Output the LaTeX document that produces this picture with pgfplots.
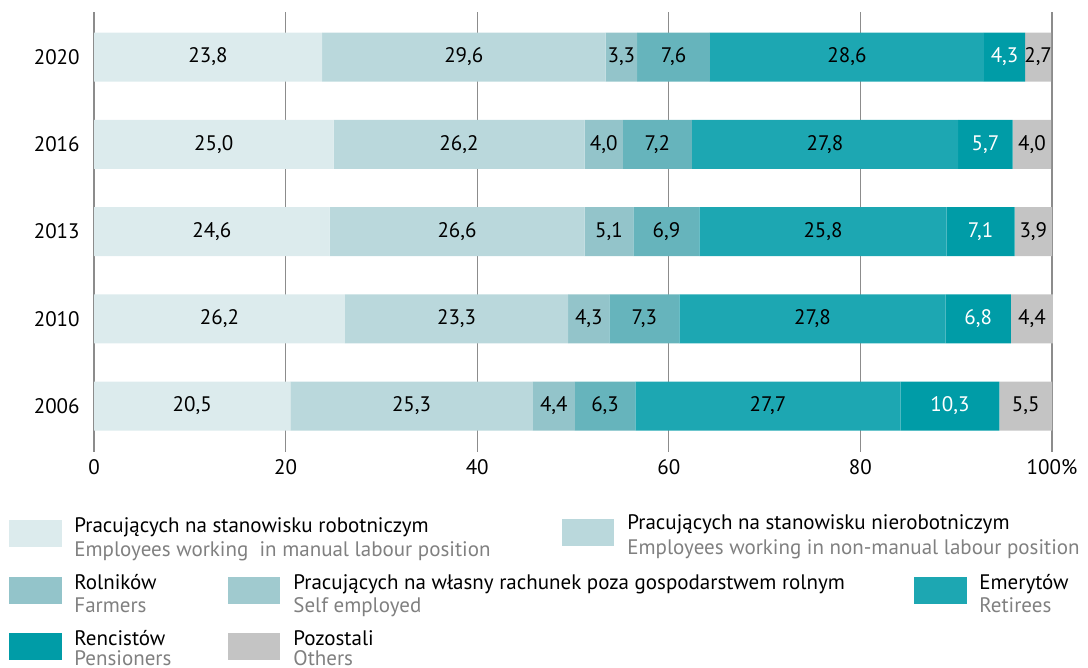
\documentclass[border=0pt]{standalone}
\usepackage{pgfplots}
\pgfplotsset{compat=1.18}
\usepackage{pgfplotstable}
\usepackage{fontspec}
\setmainfont{PT Sans}
\definecolor{cManual}{HTML}{DCEBED}
\definecolor{cNonman}{HTML}{BAD8DC}
\definecolor{cFarm}{HTML}{93C4CA}
\definecolor{cSelf}{HTML}{66B4BC}
\definecolor{cSelfLeg}{HTML}{A0CACF}
\definecolor{cRetir}{HTML}{1DA7B2}
\definecolor{cPens}{HTML}{009CA7}
\definecolor{cOther}{HTML}{C4C4C4}
\definecolor{cGrid}{HTML}{8C8C8C}
\definecolor{cSub}{HTML}{808080}
\newcommand\fs{\fontsize{10.5}{12}\selectfont}
\pgfplotstableread{
idx year manual nonmanual farmers self retirees pensioners others
0 2006 20.5 25.3 4.4 6.3 27.7 10.3 5.5
1 2010 26.2 23.3 4.3 7.3 27.8 6.8 4.4
2 2013 24.6 26.6 5.1 6.9 25.8 7.1 3.9
3 2016 25.0 26.2 4.0 7.2 27.8 5.7 4.0
4 2020 23.8 29.6 3.3 7.6 28.6 4.3 2.7
}\data
\pgfplotsset{
  seg/.style={
    fill=#1, draw=none,
  },
  lbl/.style={
    point meta=\thisrow{#1},
    nodes near coords={\pgfmathprintnumber[use comma, fixed, fixed zerofill, precision=1, assume math mode=true]{\pgfplotspointmeta}},
    every node near coord/.append style={anchor=center},
  },
}
\begin{document}
\fs
\begin{tikzpicture}
\begin{axis}[
  at={(47pt,-226pt)}, anchor=south west,
  scale only axis, width=479pt, height=220pt,
  xbar stacked, bar width=24.5pt,
  xmin=0, xmax=100, ymin=-0.527, ymax=4.516,
  ytick={0,1,2,3,4}, yticklabels={2006,2010,2013,2016,2020},
  xtick={0,20,40,60,80,100}, xticklabels={0,20,40,60,80,100\%},
  xmajorgrids, grid style={cGrid, line width=0.6pt},
  axis line style={draw=none},
  major tick length=0pt,
  tick label style={font=\fs},
  xticklabel style={anchor=base, inner sep=0pt, yshift=-11.5pt},
  yticklabel style={anchor=east, inner sep=0pt, xshift=-7pt},
  nodes near coords style={font=\fs, text=black},
  clip=false,
]
\addplot[seg=cManual, lbl=manual] table[x=manual, y=idx]{\data};
\addplot[seg=cNonman, lbl=nonmanual] table[x=nonmanual, y=idx]{\data};
\addplot[seg=cFarm, lbl=farmers] table[x=farmers, y=idx]{\data};
\addplot[seg=cSelf, lbl=self] table[x=self, y=idx]{\data};
\addplot[seg=cRetir, lbl=retirees] table[x=retirees, y=idx]{\data};
\addplot[seg=cPens, lbl=pensioners, every node near coord/.append style={text=white}] table[x=pensioners, y=idx]{\data};
\addplot[seg=cOther, lbl=others] table[x=others, y=idx]{\data};
\end{axis}
\begin{scope}[x=0.5pt, y=-0.5pt, every node/.style={anchor=base west, inner sep=0pt, font=\fs}]
\path (0,0) rectangle (1088,668);
% row 1
\fill[cManual] (9,520) rectangle (62,547);
\node at (74,532) {Pracujących na stanowisku robotniczym};
\node[text=cSub] at (74,556) {Employees working\ \ in manual labour position};
\fill[cNonman] (562,519) rectangle (614,546);
\node at (627,529) {Pracujących na stanowisku nierobotniczym};
\node[text=cSub] at (627,554) {Employees working in non-manual labour position};
% row 2
\fill[cFarm] (9,577) rectangle (62,604);
\node at (74,589) {Rolników};
\node[text=cSub] at (74,612) {Farmers};
\fill[cSelfLeg] (228,577) rectangle (280,604);
\node at (293,589) {Pracujących na własny rachunek poza gospodarstwem rolnym};
\node[text=cSub] at (293,612) {Self employed};
\fill[cRetir] (914,577) rectangle (967,604);
\node at (979,589) {Emerytów};
\node[text=cSub] at (979,612) {Retirees};
% row 3
\fill[cPens] (9,633) rectangle (62,660);
\node at (74,645) {Rencistów};
\node[text=cSub] at (74,665) {Pensioners};
\fill[cOther] (228,633) rectangle (280,660);
\node at (293,645) {Pozostali};
\node[text=cSub] at (293,665) {Others};
\end{scope}
\end{tikzpicture}
\end{document}
